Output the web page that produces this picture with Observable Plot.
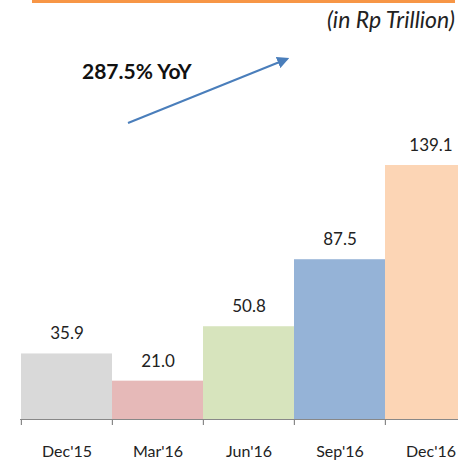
<!DOCTYPE html>
<html><head><meta charset="utf-8">
<script src="https://cdn.jsdelivr.net/npm/d3@7"></script>
<script src="https://cdn.jsdelivr.net/npm/@observablehq/plot@0.6"></script>
<style>
html,body{margin:0;padding:0;background:#fff;overflow:hidden;}
#chart svg{overflow:hidden;display:block;}
</style></head>
<body><div id="chart"></div>
<script>
const categories = ["Dec'15", "Mar'16", "Jun'16", "Sep'16", "Dec'16"];
const values = [35.9, 21.0, 50.8, 87.5, 139.1];
const colors = ["#d9d9d9", "#e6b9b8", "#d7e4bd", "#95b3d7", "#fcd5b5"];
const unitText = "(in Rp Trillion)";
const growthText = "287.5% YoY";

const data = categories.map((c, i) => ({cat: c, value: values[i], color: colors[i]}));
const font = "Lato, 'Open Sans', sans-serif";

const chart = Plot.plot({
  width: 458,
  height: 465,
  marginTop: 0, marginBottom: 46, marginLeft: 20, marginRight: 0,
  style: {fontFamily: font, background: "#fff"},
  x: {domain: categories, range: [20, 476.25], padding: 0, label: null},
  y: {domain: [0, 139.1], range: [419, 165], axis: null},
  marks: [
    Plot.barY(data, {x: "cat", y: "value", fill: "color"}),
    Plot.text(data, {x: "cat", y: "value", text: d => d.value.toFixed(1), dy: -20, fontSize: 17, fill: "#222", lineAnchor: "middle"}),
    Plot.ruleY([0], {stroke: "#888", strokeWidth: 1.2}),
    Plot.ruleX(categories, {x: d => d, dx: -45.6, y1: 0, y2: -3.3, stroke: "#888", strokeWidth: 1.2}),
    Plot.axisX({tickSize: 0, tickPadding: 26, fontSize: 16, fill: "#222", label: null})
  ]
});
document.getElementById("chart").appendChild(chart);

// annotations
const svg = d3.select(chart);
svg.append("line").attr("x1", 32).attr("x2", 455).attr("y1", 1).attr("y2", 1)
  .attr("stroke", "#f79646").attr("stroke-width", 4);
svg.append("text").attr("x", 455).attr("y", 28).attr("text-anchor", "end")
  .attr("font-style", "italic").attr("font-size", 23).attr("font-family", font).attr("fill", "#222")
  .text(unitText);
svg.append("text").attr("x", 82).attr("y", 79).attr("text-anchor", "start")
  .attr("font-weight", "bold").attr("font-size", 21).attr("font-family", font).attr("fill", "#111")
  .text(growthText);
svg.append("defs").append("marker").attr("id", "ah").attr("viewBox", "0 0 10 10")
  .attr("refX", 8).attr("refY", 5).attr("markerWidth", 6).attr("markerHeight", 6).attr("orient", "auto")
  .append("path").attr("d", "M0,0L10,5L0,10z").attr("fill", "#4a7ebb");
svg.append("line").attr("x1", 128).attr("y1", 123).attr("x2", 287).attr("y2", 59)
  .attr("stroke", "#4a7ebb").attr("stroke-width", 2).attr("marker-end", "url(#ah)");
</script></body></html>
